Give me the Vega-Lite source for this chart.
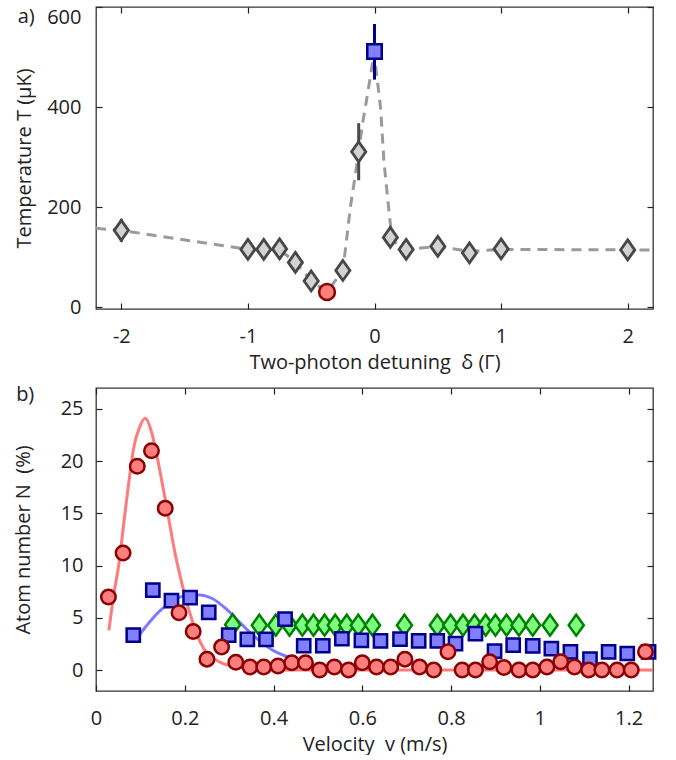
{
  "$schema": "https://vega.github.io/schema/vega-lite/v6.json",
  "padding": {"left": 12, "top": 5, "right": 10, "bottom": 0},
  "spacing": 11,
  "config": {
    "font": "Open Sans",
    "view": {"stroke": "#333", "strokeWidth": 1.3},
    "axis": {"grid": false, "domain": false, "tickColor": "#222", "tickSize": -6, "tickWidth": 1.2, "labelFontSize": 20, "titleFontSize": 20, "titleFontWeight": "normal", "labelColor": "#222", "titleColor": "#222", "labelFlush": false, "labelOverlap": false, "labelExpr": "'' + datum.value"},
    "title": {"fontSize": 20, "fontWeight": "normal", "color": "#222"}
  },
  "vconcat": [
    {
      "width": 557,
      "height": 302,
      "title": {"text": "a)", "anchor": "start", "frame": "bounds", "baseline": "top", "offset": 0, "dx": 3, "dy": 21},
      "resolve": {"axis": {"x": "independent", "y": "independent"}},
      "layer": [
        {
          "data": {"values": [
            {"d": -2.2, "T": 158}, {"d": -2, "T": 154}, {"d": -1, "T": 116}, {"d": -0.875, "T": 116}, {"d": -0.75, "T": 116},
            {"d": -0.625, "T": 90}, {"d": -0.5, "T": 54}, {"d": -0.375, "T": 31}, {"d": -0.25, "T": 74}, {"d": -0.228, "T": 120},
            {"d": -0.189, "T": 203}, {"d": -0.149, "T": 269}, {"d": -0.097, "T": 363}, {"d": -0.057, "T": 423}, {"d": -0.017, "T": 486},
            {"d": 0, "T": 492}, {"d": 0.009, "T": 483}, {"d": 0.049, "T": 396}, {"d": 0.075, "T": 290}, {"d": 0.11, "T": 203},
            {"d": 0.128, "T": 160}, {"d": 0.16, "T": 130}, {"d": 0.25, "T": 116}, {"d": 0.5, "T": 122}, {"d": 0.75, "T": 112},
            {"d": 1, "T": 116}, {"d": 2, "T": 115}, {"d": 2.2, "T": 115}
          ]},
          "mark": {"type": "line", "color": "#9a9a9a", "strokeWidth": 3, "strokeDash": [10, 7], "clip": true},
          "encoding": {
            "x": {"field": "d", "type": "quantitative", "scale": {"domain": [-2.2, 2.2], "nice": false, "zero": false},
              "axis": {"orient": "bottom", "values": [-2, -1, 0, 1, 2], "title": "Two-photon detuning\u00a0 δ (Γ)", "labelPadding": 23, "titlePadding": 6}},
            "y": {"field": "T", "type": "quantitative", "scale": {"domain": [-3, 600], "nice": false, "zero": false},
              "axis": {"orient": "left", "values": [0, 200, 400, 600], "title": "Temperature T (μK)", "labelPadding": 21, "titlePadding": 12, "labelFlush": 1}}
          }
        },
        {
          "data": {"name": "pa"},
          "transform": [{"filter": "datum.lo != null"}],
          "mark": {"type": "rule", "strokeWidth": 3},
          "encoding": {
            "x": {"field": "d", "type": "quantitative", "axis": {"orient": "top", "values": [-2, -1, 0, 1, 2], "labels": false, "title": null}},
            "y": {"field": "lo", "type": "quantitative", "axis": {"orient": "right", "values": [0, 200, 400, 600], "labels": false, "title": null}},
            "y2": {"field": "hi"},
            "color": {"field": "s", "type": "nominal", "scale": {"domain": ["gray", "red", "blue"], "range": ["#4a4a4a", "#8b0000", "#00008b"]}, "legend": null}
          }
        },
        {
          "data": {"name": "pa"},
          "transform": [{"filter": "datum.s == 'gray'"}],
          "mark": {"type": "point", "shape": "M0,-1L0.71,0L0,1L-0.71,0Z", "size": 400, "filled": true, "fill": "#d2d2d2", "stroke": "#474747", "strokeWidth": 2.8, "opacity": 1},
          "encoding": {
            "x": {"field": "d", "type": "quantitative", "axis": null},
            "y": {"field": "T", "type": "quantitative", "axis": null}
          }
        },
        {
          "data": {"name": "pa"},
          "transform": [{"filter": "datum.s == 'red'"}],
          "mark": {"type": "point", "shape": "circle", "size": 250, "filled": true, "fill": "#ff7f7f", "stroke": "#8b0000", "strokeWidth": 2.5, "opacity": 1},
          "encoding": {
            "x": {"field": "d", "type": "quantitative", "axis": null},
            "y": {"field": "T", "type": "quantitative", "axis": null}
          }
        },
        {
          "data": {"name": "pa"},
          "transform": [{"filter": "datum.s == 'blue'"}],
          "mark": {"type": "point", "shape": "square", "size": 210, "filled": true, "fill": "#7f7fff", "stroke": "#00008b", "strokeWidth": 2.5, "opacity": 1},
          "encoding": {
            "x": {"field": "d", "type": "quantitative", "axis": null},
            "y": {"field": "T", "type": "quantitative", "axis": null}
          }
        }
      ]
    },
    {
      "width": 557,
      "height": 303,
      "title": {"text": "b)", "anchor": "start", "frame": "bounds", "baseline": "top", "offset": 0, "dx": 3, "dy": 18},
      "resolve": {"axis": {"x": "independent", "y": "independent"}},
      "layer": [
        {
          "data": {"name": "fitred"},
          "mark": {"type": "line", "color": "#ff7b7b", "strokeWidth": 3, "interpolate": "monotone", "clip": true},
          "encoding": {
            "x": {"field": "v", "type": "quantitative", "scale": {"domain": [0, 1.255], "nice": false, "zero": false},
              "axis": {"orient": "bottom", "values": [0, 0.2, 0.4, 0.6, 0.8, 1, 1.2], "title": "Velocity\u00a0 v (m/s)", "labelPadding": 23, "titlePadding": 6}},
            "y": {"field": "N", "type": "quantitative", "scale": {"domain": [-2, 27], "nice": false, "zero": false},
              "axis": {"orient": "left", "values": [0, 5, 10, 15, 20, 25], "title": "Atom number N\u00a0 (%)", "labelPadding": 19, "titlePadding": 27}}
          }
        },
        {
          "data": {"name": "fitblue"},
          "mark": {"type": "line", "color": "#7b7bff", "strokeWidth": 3, "interpolate": "monotone", "clip": true},
          "encoding": {
            "x": {"field": "v", "type": "quantitative", "axis": {"orient": "top", "values": [0, 0.2, 0.4, 0.6, 0.8, 1, 1.2], "labels": false, "title": null}},
            "y": {"field": "N", "type": "quantitative", "axis": {"orient": "right", "values": [0, 5, 10, 15, 20, 25], "labels": false, "title": null}}
          }
        },
        {
          "data": {"name": "pb"},
          "transform": [{"filter": "datum.s == 'green'"}],
          "mark": {"type": "point", "shape": "M0,-1L0.72,0L0,1L-0.72,0Z", "size": 441, "filled": true, "fill": "#7fff7f", "stroke": "#008000", "strokeWidth": 2.5, "opacity": 1},
          "encoding": {
            "x": {"field": "v", "type": "quantitative", "axis": null},
            "y": {"field": "N", "type": "quantitative", "axis": null}
          }
        },
        {
          "data": {"name": "pb"},
          "transform": [{"filter": "datum.s == 'blue'"}],
          "mark": {"type": "point", "shape": "square", "size": 175, "filled": true, "fill": "#7f7fff", "stroke": "#00008b", "strokeWidth": 2.5, "opacity": 1},
          "encoding": {
            "x": {"field": "v", "type": "quantitative", "axis": null},
            "y": {"field": "N", "type": "quantitative", "axis": null}
          }
        },
        {
          "data": {"name": "pb"},
          "transform": [{"filter": "datum.s == 'red'"}],
          "mark": {"type": "point", "shape": "circle", "size": 210, "filled": true, "fill": "#ff7f7f", "stroke": "#8b0000", "strokeWidth": 2.5, "opacity": 1},
          "encoding": {
            "x": {"field": "v", "type": "quantitative", "axis": null},
            "y": {"field": "N", "type": "quantitative", "axis": null}
          }
        }
      ]
    }
  ],
  "datasets": {
    "pa": [
      {"d": -2, "T": 154, "lo": 131, "hi": 177, "s": "gray"},
      {"d": -1, "T": 116, "s": "gray"},
      {"d": -0.875, "T": 116, "s": "gray"},
      {"d": -0.75, "T": 117, "s": "gray"},
      {"d": -0.625, "T": 90, "s": "gray"},
      {"d": -0.5, "T": 53, "s": "gray"},
      {"d": -0.25, "T": 74, "s": "gray"},
      {"d": -0.125, "T": 311, "lo": 254, "hi": 368, "s": "gray"},
      {"d": 0.125, "T": 140, "s": "gray"},
      {"d": 0.25, "T": 116, "s": "gray"},
      {"d": 0.5, "T": 122, "s": "gray"},
      {"d": 0.75, "T": 109, "s": "gray"},
      {"d": 1, "T": 117, "s": "gray"},
      {"d": 2, "T": 115, "s": "gray"},
      {"d": -0.375, "T": 31, "s": "red"},
      {"d": 0, "T": 511, "lo": 455, "hi": 566, "s": "blue"}
    ],
    "fitred": [
      {"v": 0.029, "N": 3.8}, {"v": 0.04, "N": 7.2}, {"v": 0.052, "N": 10.3}, {"v": 0.063, "N": 14.2}, {"v": 0.074, "N": 18.0},
      {"v": 0.086, "N": 21.5}, {"v": 0.097, "N": 23.1}, {"v": 0.111, "N": 24.1}, {"v": 0.123, "N": 23.1}, {"v": 0.134, "N": 21.2},
      {"v": 0.146, "N": 18.6}, {"v": 0.157, "N": 16.1}, {"v": 0.168, "N": 13.5}, {"v": 0.179, "N": 11.0}, {"v": 0.191, "N": 8.75},
      {"v": 0.202, "N": 6.85}, {"v": 0.213, "N": 5.25}, {"v": 0.228, "N": 3.35}, {"v": 0.243, "N": 2.05}, {"v": 0.266, "N": 1.1},
      {"v": 0.288, "N": 0.6}, {"v": 0.3, "N": 0.45}, {"v": 0.352, "N": 0.1}, {"v": 0.4, "N": 0.02}, {"v": 1.255, "N": 0}
    ],
    "fitblue": [
      {"v": 0.086, "N": 2.7}, {"v": 0.112, "N": 4.15}, {"v": 0.142, "N": 5.6}, {"v": 0.164, "N": 6.35}, {"v": 0.202, "N": 7.15},
      {"v": 0.232, "N": 7.2}, {"v": 0.262, "N": 6.85}, {"v": 0.292, "N": 5.9}, {"v": 0.33, "N": 4.3}, {"v": 0.367, "N": 2.85},
      {"v": 0.405, "N": 1.75}, {"v": 0.427, "N": 1.35}, {"v": 0.44, "N": 1.15}
    ],
    "pb": [
      {"v": 0.028, "N": 7.0, "s": "red"}, {"v": 0.061, "N": 11.2, "s": "red"}, {"v": 0.093, "N": 19.5, "s": "red"},
      {"v": 0.125, "N": 21.0, "s": "red"}, {"v": 0.156, "N": 15.5, "s": "red"}, {"v": 0.187, "N": 5.5, "s": "red"},
      {"v": 0.219, "N": 3.7, "s": "red"}, {"v": 0.25, "N": 1.05, "s": "red"}, {"v": 0.283, "N": 2.2, "s": "red"},
      {"v": 0.315, "N": 0.75, "s": "red"}, {"v": 0.347, "N": 0.3, "s": "red"}, {"v": 0.378, "N": 0.3, "s": "red"},
      {"v": 0.41, "N": 0.4, "s": "red"}, {"v": 0.441, "N": 0.7, "s": "red"}, {"v": 0.472, "N": 0.7, "s": "red"},
      {"v": 0.504, "N": 0, "s": "red"}, {"v": 0.537, "N": 0.3, "s": "red"}, {"v": 0.569, "N": 0, "s": "red"},
      {"v": 0.6, "N": 0.7, "s": "red"}, {"v": 0.632, "N": 0.3, "s": "red"}, {"v": 0.664, "N": 0.3, "s": "red"},
      {"v": 0.696, "N": 1.05, "s": "red"}, {"v": 0.729, "N": 0.3, "s": "red"}, {"v": 0.761, "N": 0, "s": "red"},
      {"v": 0.793, "N": 1.75, "s": "red"}, {"v": 0.825, "N": 0, "s": "red"}, {"v": 0.855, "N": 0, "s": "red"},
      {"v": 0.887, "N": 0.8, "s": "red"}, {"v": 0.919, "N": 0.25, "s": "red"}, {"v": 0.953, "N": 0, "s": "red"},
      {"v": 0.984, "N": 0, "s": "red"}, {"v": 1.016, "N": 0.3, "s": "red"}, {"v": 1.047, "N": 0.8, "s": "red"},
      {"v": 1.078, "N": 0.3, "s": "red"}, {"v": 1.11, "N": 0, "s": "red"}, {"v": 1.14, "N": 0, "s": "red"},
      {"v": 1.174, "N": 0, "s": "red"}, {"v": 1.206, "N": 0, "s": "red"}, {"v": 1.238, "N": 1.75, "s": "red"},
      {"v": 0.084, "N": 3.35, "s": "blue"}, {"v": 0.128, "N": 7.66, "s": "blue"}, {"v": 0.17, "N": 6.64, "s": "blue"},
      {"v": 0.212, "N": 6.93, "s": "blue"}, {"v": 0.254, "N": 5.52, "s": "blue"}, {"v": 0.299, "N": 3.35, "s": "blue"},
      {"v": 0.341, "N": 2.94, "s": "blue"}, {"v": 0.383, "N": 2.94, "s": "blue"}, {"v": 0.426, "N": 4.88, "s": "blue"},
      {"v": 0.468, "N": 2.33, "s": "blue"}, {"v": 0.511, "N": 2.33, "s": "blue"}, {"v": 0.554, "N": 3.0, "s": "blue"},
      {"v": 0.598, "N": 2.84, "s": "blue"}, {"v": 0.641, "N": 2.8, "s": "blue"}, {"v": 0.685, "N": 2.96, "s": "blue"},
      {"v": 0.727, "N": 2.8, "s": "blue"}, {"v": 0.769, "N": 2.8, "s": "blue"}, {"v": 0.81, "N": 2.54, "s": "blue"},
      {"v": 0.855, "N": 3.5, "s": "blue"}, {"v": 0.898, "N": 1.81, "s": "blue"}, {"v": 0.94, "N": 2.39, "s": "blue"},
      {"v": 0.984, "N": 2.32, "s": "blue"}, {"v": 1.026, "N": 2.06, "s": "blue"}, {"v": 1.069, "N": 1.75, "s": "blue"},
      {"v": 1.113, "N": 1.05, "s": "blue"}, {"v": 1.155, "N": 1.75, "s": "blue"}, {"v": 1.197, "N": 1.59, "s": "blue"},
      {"v": 1.245, "N": 1.75, "s": "blue"},
      {"v": 0.308, "N": 4.35, "s": "green"}, {"v": 0.368, "N": 4.3, "s": "green"}, {"v": 0.405, "N": 4.3, "s": "green"},
      {"v": 0.436, "N": 4.3, "s": "green"}, {"v": 0.465, "N": 4.3, "s": "green"}, {"v": 0.49, "N": 4.3, "s": "green"},
      {"v": 0.515, "N": 4.3, "s": "green"}, {"v": 0.539, "N": 4.3, "s": "green"}, {"v": 0.565, "N": 4.3, "s": "green"},
      {"v": 0.591, "N": 4.3, "s": "green"}, {"v": 0.623, "N": 4.3, "s": "green"}, {"v": 0.695, "N": 4.3, "s": "green"},
      {"v": 0.769, "N": 4.3, "s": "green"}, {"v": 0.799, "N": 4.3, "s": "green"}, {"v": 0.827, "N": 4.3, "s": "green"},
      {"v": 0.853, "N": 4.3, "s": "green"}, {"v": 0.878, "N": 4.3, "s": "green"}, {"v": 0.9, "N": 4.3, "s": "green"},
      {"v": 0.925, "N": 4.3, "s": "green"}, {"v": 0.953, "N": 4.3, "s": "green"}, {"v": 0.984, "N": 4.3, "s": "green"},
      {"v": 1.023, "N": 4.3, "s": "green"}, {"v": 1.082, "N": 4.3, "s": "green"}
    ]
  }
}
